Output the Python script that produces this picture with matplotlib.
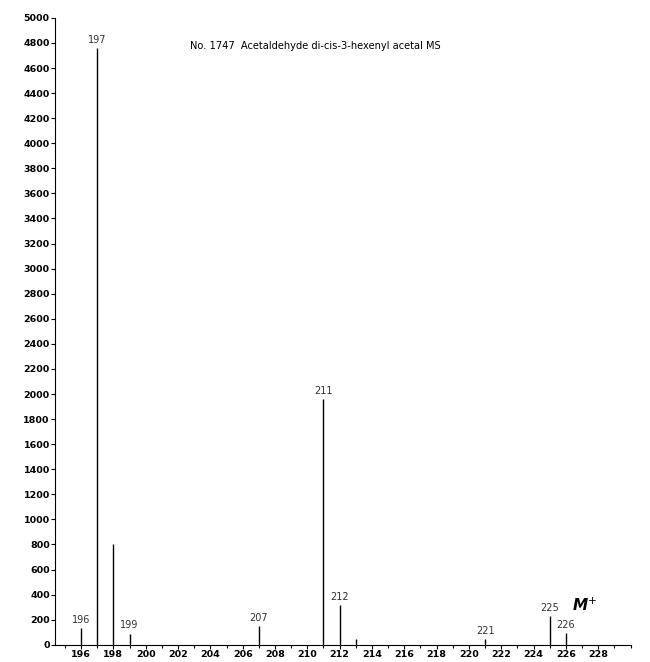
import matplotlib.pyplot as plt
from matplotlib.ticker import MultipleLocator

# peak list
mz = [196, 197, 198, 199, 207, 211, 212, 213, 221, 225, 226]
intensity = [130, 4760, 800, 90, 150, 1960, 320, 50, 45, 230, 95]
labelled = [196, 197, 199, 207, 211, 212, 221, 225, 226]

title = 'No. 1747  Acetaldehyde di-cis-3-hexenyl acetal MS'

fig = plt.figure(figsize=(6.5, 6.62), dpi=100)
ax = fig.add_axes([0.085, 0.026, 0.885, 0.947])

ax.vlines(mz, 0, intensity, color='black', linewidth=1.0)

for m, h in zip(mz, intensity):
    if m in labelled:
        ax.text(m, h + 25, str(m), ha='center', va='bottom',
                fontsize=7, color='#333333')

ax.text(226.4, 245, 'M$^{+}$', fontsize=11, fontweight='bold',
        fontstyle='italic', ha='left', va='bottom')

ax.text(0.235, 0.955, title, transform=ax.transAxes, fontsize=7.1,
        ha='left', va='center', family='DejaVu Sans')

ax.set_xlim(194.4, 230)
ax.set_ylim(0, 5000)
ax.xaxis.set_minor_locator(MultipleLocator(1))
ax.yaxis.set_major_locator(MultipleLocator(200))
ax.set_xticks(range(196, 229, 2))

ax.spines['top'].set_visible(False)
ax.spines['right'].set_visible(False)
ax.tick_params(axis='both', labelsize=6.8, width=0.8, length=3, pad=1)
ax.tick_params(axis='x', pad=0.5)
ax.tick_params(axis='x', which='minor', length=2, width=0.8)
for lab in ax.get_xticklabels() + ax.get_yticklabels():
    lab.set_fontweight('bold')

fig.savefig('out.png', dpi=100)
